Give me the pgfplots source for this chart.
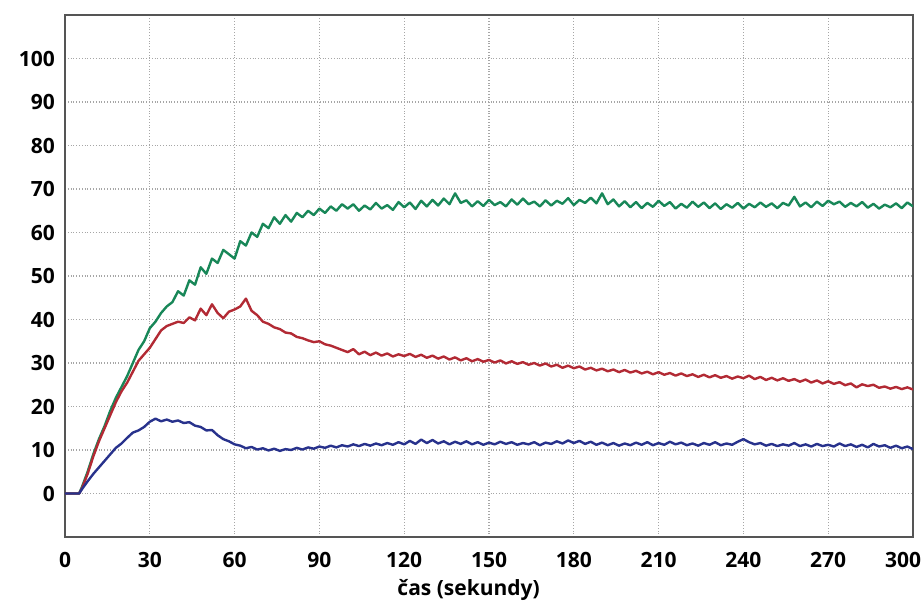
\documentclass[border=0pt]{standalone}
\usepackage{fontspec}
\setmainfont{Open Sans}
\usepackage{pgfplots}
\pgfplotsset{compat=1.18}

\definecolor{zelena}{RGB}{24,135,88}
\definecolor{cervena}{RGB}{178,42,52}
\definecolor{modra}{RGB}{40,50,140}
\definecolor{ramecek}{RGB}{85,85,85}

\begin{document}
\begin{tikzpicture}
\path[use as bounding box] (-32.5pt,-34.5pt) rectangle (429.5pt,268.5pt);
\begin{axis}[
    at={(0,0)}, anchor=south west,
    width=424pt, height=261pt,
    scale only axis,
    xmin=0, xmax=300,
    ymin=-10, ymax=110,
    xtick={0,30,...,270},
    extra x ticks={300},
    extra x tick style={grid=none, xticklabel style={xshift=-5pt}},
    ytick={0,10,...,100},
    major tick length=0pt,
    grid=major,
    grid style={gray!70, densely dotted, line width=0.6pt},
    axis line style={ramecek, line width=1.1pt},
    /pgf/number format/assume math mode=true,
    tick label style={font=\fontsize{10.5}{12}\selectfont\bfseries},
    yticklabel style={xshift=-1.5pt},
    xticklabel style={yshift=-4pt},
    xlabel={čas (sekundy)},
    xlabel style={font=\fontsize{10.5}{12}\selectfont\bfseries,
        at={(axis description cs:0.476,0)}, anchor=center, yshift=-26.5pt},
    every axis plot/.append style={line width=1.2pt, line join=round},
]
% zelena krivka
\addplot[zelena] coordinates {
(0,0)(2,0)(4,0)(5,0)(6,1.5)(8,5)(10,9)(12,12.5)(14,15.5)(16,19)(18,22)(20,24.5)(22,27)(24,30)(26,33)(28,35)(30,38)
(32,39.5)(34,41.5)(36,43)(38,44)(40,46.5)(42,45.5)(44,49)(46,48)(48,52)(50,50.5)(52,54)(54,53)(56,56)(58,55)(60,54)
(62,58)(64,57)(66,60)(68,59)(70,62)(72,61)(74,63.5)(76,62)(78,64)(80,62.5)(82,64.5)(84,63.5)(86,65)(88,64)(90,65.5)
(92,64.5)(94,66)(96,65)(98,66.5)(100,65.5)(102,66.5)(104,65)(106,66.2)(108,65.3)(110,66.8)(112,65.5)(114,66.3)(116,65.2)
(118,67)(120,65.8)(122,66.9)(124,65.4)(126,67.3)(128,66)(130,67.5)(132,66.2)(134,67.8)(136,66.5)(138,69)(140,66.8)
(142,67.4)(144,66)(146,67.2)(148,66.1)(150,67.5)(152,66.3)(154,67)(156,66)(158,67.6)(160,66.4)(162,67.8)(164,66.5)
(166,67.1)(168,66)(170,67.4)(172,66.2)(174,67.3)(176,66.6)(178,67.9)(180,66.3)(182,67.5)(184,66.8)(186,68)(188,66.7)
(190,69)(192,66.5)(194,67.6)(196,66)(198,67.2)(200,65.8)(202,67)(204,65.6)(206,66.8)(208,65.9)(210,67.3)(212,66.1)
(214,67)(216,65.5)(218,66.6)(220,65.7)(222,67.1)(224,65.9)(226,66.9)(228,65.6)(230,66.7)(232,65.4)(234,66.5)(236,65.7)
(238,66.8)(240,65.5)(242,66.6)(244,65.8)(246,66.9)(248,65.9)(250,66.7)(252,65.6)(254,66.8)(256,66.2)(258,68.2)(260,66)
(262,66.9)(264,65.8)(266,67.1)(268,66.1)(270,67.3)(272,66.5)(274,67.1)(276,65.9)(278,66.8)(280,66)(282,67)(284,65.7)
(286,66.6)(288,65.5)(290,66.4)(292,65.8)(294,66.7)(296,65.6)(298,66.9)(300,66)
};
% cervena krivka
\addplot[cervena] coordinates {
(0,0)(2,0)(4,0)(5,0)(6,1.2)(8,4.5)(10,8.5)(12,12)(14,15)(16,18)(18,21)(20,23.5)(22,25.5)(24,28)(26,30.5)(28,32)(30,33.5)
(32,35.5)(34,37.5)(36,38.5)(38,39)(40,39.5)(42,39.2)(44,40.5)(46,39.8)(48,42.5)(50,41)(52,43.5)(54,41.5)(56,40.3)
(58,41.8)(60,42.3)(62,43)(64,44.8)(66,42)(68,41)(70,39.5)(72,39)(74,38.2)(76,37.8)(78,37)(80,36.8)(82,36)(84,35.7)
(86,35.2)(88,34.8)(90,35)(92,34.3)(94,34)(96,33.5)(98,33)(100,32.5)(102,33.2)(104,32)(106,32.6)(108,31.8)(110,32.4)
(112,31.7)(114,32.2)(116,31.5)(118,32)(120,31.6)(122,32.1)(124,31.4)(126,31.9)(128,31.2)(130,31.7)(132,31)(134,31.5)
(136,30.8)(138,31.3)(140,30.6)(142,31.1)(144,30.4)(146,30.9)(148,30.3)(150,30.7)(152,30.1)(154,30.6)(156,29.9)(158,30.4)
(160,29.8)(162,30.2)(164,29.6)(166,30)(168,29.4)(170,29.9)(172,29.2)(174,29.6)(176,28.9)(178,29.4)(180,28.8)(182,29.2)
(184,28.5)(186,28.9)(188,28.3)(190,28.7)(192,28.1)(194,28.5)(196,27.9)(198,28.4)(200,27.8)(202,28.2)(204,27.6)(206,28)
(208,27.4)(210,27.9)(212,27.3)(214,27.7)(216,27.1)(218,27.6)(220,27)(222,27.4)(224,26.8)(226,27.3)(228,26.7)(230,27.2)
(232,26.6)(234,27)(236,26.4)(238,26.9)(240,26.5)(242,27.1)(244,26.3)(246,26.8)(248,26.1)(250,26.6)(252,26)(254,26.5)
(256,25.9)(258,26.3)(260,25.7)(262,26.2)(264,25.5)(266,26)(268,25.3)(270,25.8)(272,25.2)(274,25.6)(276,24.9)(278,25.3)
(280,24.4)(282,25.1)(284,24.7)(286,25)(288,24.3)(290,24.6)(292,24.1)(294,24.5)(296,24)(298,24.4)(300,23.9)
};
% modra krivka
\addplot[modra] coordinates {
(0,0)(2,0)(4,0)(5,0)(6,1)(8,2.8)(10,4.5)(12,6)(14,7.5)(16,9)(18,10.5)(20,11.5)(22,12.8)(24,14)(26,14.5)(28,15.3)(30,16.5)
(32,17.2)(34,16.6)(36,17)(38,16.5)(40,16.8)(42,16.2)(44,16.4)(46,15.6)(48,15.3)(50,14.5)(52,14.6)(54,13.4)(56,12.5)
(58,12)(60,11.3)(62,11)(64,10.4)(66,10.7)(68,10.1)(70,10.4)(72,9.9)(74,10.3)(76,9.8)(78,10.2)(80,10)(82,10.5)(84,10.1)
(86,10.6)(88,10.3)(90,10.8)(92,10.5)(94,11)(96,10.6)(98,11.1)(100,10.8)(102,11.3)(104,10.9)(106,11.4)(108,11)(110,11.5)
(112,11.1)(114,11.6)(116,11.2)(118,11.8)(120,11.3)(122,12.1)(124,11.4)(126,12.4)(128,11.6)(130,12.3)(132,11.5)(134,12)
(136,11.3)(138,11.9)(140,11.4)(142,12)(144,11.3)(146,11.8)(148,11.2)(150,11.7)(152,11.3)(154,11.9)(156,11.4)(158,11.8)
(160,11.2)(162,11.6)(164,11.3)(166,11.8)(168,11.1)(170,11.7)(172,11.4)(174,12)(176,11.5)(178,12.2)(180,11.6)(182,12.1)
(184,11.4)(186,11.9)(188,11.2)(190,11.7)(192,11.1)(194,11.6)(196,11)(198,11.5)(200,11.1)(202,11.7)(204,11.2)(206,11.8)
(208,11.1)(210,11.6)(212,11.2)(214,11.9)(216,11.3)(218,11.7)(220,11.1)(222,11.5)(224,11)(226,11.6)(228,11.2)(230,11.8)
(232,11.1)(234,11.5)(236,11.2)(238,11.9)(240,12.5)(242,11.8)(244,11.3)(246,11.6)(248,11)(250,11.4)(252,10.9)(254,11.3)
(256,11)(258,11.6)(260,10.9)(262,11.3)(264,10.8)(266,11.4)(268,10.9)(270,11.2)(272,10.8)(274,11.5)(276,10.9)(278,11.3)
(280,10.7)(282,11.2)(284,10.6)(286,11.4)(288,10.8)(290,11.1)(292,10.5)(294,11)(296,10.4)(298,10.8)(300,10.2)
};
\end{axis}
\end{tikzpicture}
\end{document}
